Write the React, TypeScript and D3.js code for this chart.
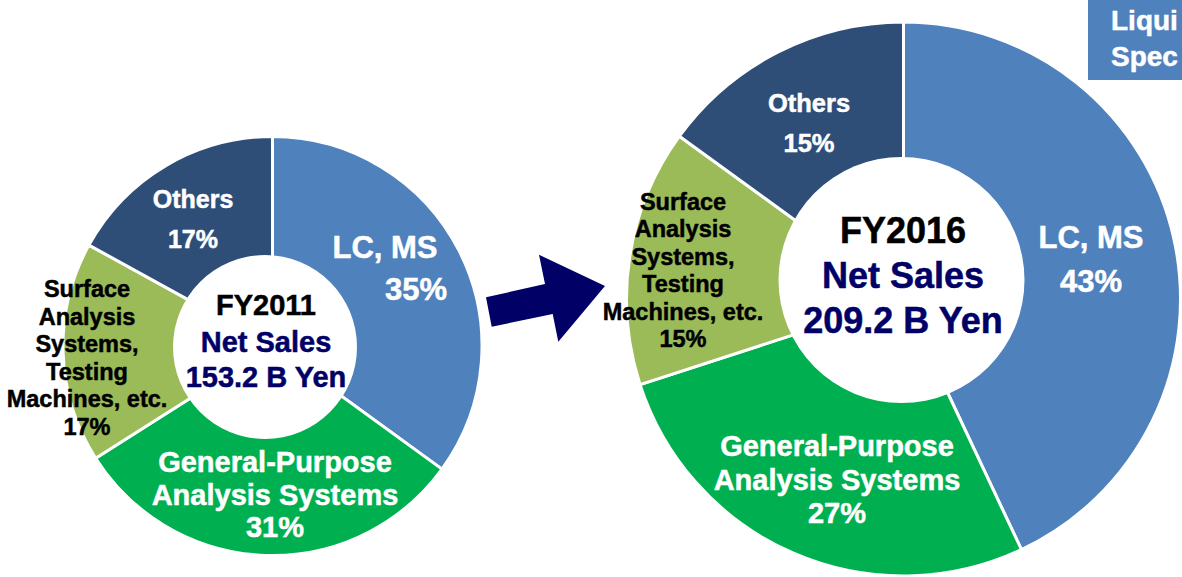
import React from 'react';
import * as d3 from 'd3';

// ---------- data ----------
const categories = [
  'LC, MS',
  'General-Purpose Analysis Systems',
  'Surface Analysis Systems, Testing Machines, etc.',
  'Others',
];
const categoryLines = [
  ['LC, MS'],
  ['General-Purpose', 'Analysis Systems'],
  ['Surface', 'Analysis', 'Systems,', 'Testing', 'Machines, etc.'],
  ['Others'],
];
const fy2011Values = [35, 31, 17, 17];
const fy2016Values = [43, 27, 15, 15];
const fy2011Center = ['FY2011', 'Net Sales', '153.2 B Yen'];
const fy2016Center = ['FY2016', 'Net Sales', '209.2 B Yen'];

// ---------- styles ----------
const colors = ['#4F81BD', '#00B050', '#9BBB59', '#2E4E78'];
const labelColors = ['#ffffff', '#ffffff', '#000000', '#ffffff'];
const FONT = '"Liberation Sans", Arial, Helvetica, sans-serif';
const NAVY = '#000066';

type LabelPos = { x: number; y: number; lh: number; size: number; pctX?: number };
type ChartLayout = {
  cx: number; cy: number; r: number;
  icx: number; icy: number; ir: number;
  labels: LabelPos[];
  center: { x: number; ys: number[]; size: number };
};

const leftLayout: ChartLayout = {
  cx: 272.5, cy: 346, r: 209.5,
  icx: 265, icy: 347, ir: 92,
  labels: [
    { x: 385, y: 258, lh: 42, size: 31, pctX: 416 },
    { x: 275, y: 472, lh: 32.5, size: 29 },
    { x: 87, y: 297, lh: 27.6, size: 23.5 },
    { x: 193, y: 208, lh: 40, size: 25 },
  ],
  center: { x: 266, ys: [315, 352, 387], size: 29 },
};

const rightLayout: ChartLayout = {
  cx: 903.5, cy: 299, r: 277,
  icx: 901.5, icy: 280, ir: 123,
  labels: [
    { x: 1091, y: 248, lh: 44, size: 31 },
    { x: 837, y: 456, lh: 33.5, size: 29 },
    { x: 683, y: 210, lh: 27.4, size: 23.5 },
    { x: 809, y: 112, lh: 40, size: 25.5 },
  ],
  center: { x: 903, ys: [243, 288, 333], size: 36 },
};

function Donut({ values, centerText, layout }: { values: number[]; centerText: string[]; layout: ChartLayout }) {
  const pie = d3.pie<number>().sort(null).startAngle(0).endAngle(2 * Math.PI);
  const arcs = pie(values);
  const arc = d3.arc<d3.PieArcDatum<number>>().innerRadius(0).outerRadius(layout.r);
  return (
    <g>
      <g transform={`translate(${layout.cx},${layout.cy})`}>
        {arcs.map((a, i) => (
          <path key={i} d={arc(a) || ''} fill={colors[i]} stroke="#ffffff" strokeWidth={3} strokeLinejoin="round" />
        ))}
      </g>
      <circle cx={layout.icx} cy={layout.icy} r={layout.ir} fill="#ffffff" />
      {categoryLines.map((lines, i) => {
        const lp = layout.labels[i];
        const all = [...lines, `${values[i]}%`];
        return (
          <text
            key={i}
            fill={labelColors[i]}
            stroke={labelColors[i]}
            strokeWidth={0.5}
            fontFamily={FONT}
            fontWeight="bold"
            fontSize={lp.size}
            textAnchor="middle"
          >
            {all.map((t, j) => (
              <tspan key={j} x={j === all.length - 1 && lp.pctX !== undefined ? lp.pctX : lp.x} y={lp.y + j * lp.lh}>
                {t}
              </tspan>
            ))}
          </text>
        );
      })}
      <text fontFamily={FONT} fontWeight="bold" fontSize={layout.center.size} textAnchor="middle" strokeWidth={0.5}>
        {centerText.map((t, j) => (
          <tspan
            key={j}
            x={layout.center.x}
            y={layout.center.ys[j]}
            fill={j === 0 ? '#000000' : NAVY}
            stroke={j === 0 ? '#000000' : NAVY}
          >
            {t}
          </tspan>
        ))}
      </text>
    </g>
  );
}

export default function App() {
  const arrowPts: [number, number][] = [
    [486, 297.3], [545, 284], [539, 254.7], [605, 286], [558.3, 341.7], [552.7, 314], [491.7, 326.7],
  ];
  const arrowPath = d3.line()(arrowPts) + 'Z';
  return (
    <svg
      width={1182}
      height={577}
      viewBox="0 0 1182 577"
      style={{ position: 'absolute', left: 0, top: 0, background: '#ffffff' }}
    >
      <rect x={0} y={0} width={1182} height={577} fill="#ffffff" />
      <Donut values={fy2011Values} centerText={fy2011Center} layout={leftLayout} />
      <Donut values={fy2016Values} centerText={fy2016Center} layout={rightLayout} />
      <path d={arrowPath} fill={NAVY} />
      <rect x={1088} y={0} width={94} height={80} fill="#4F81BD" />
      <text fill="#ffffff" stroke="#ffffff" strokeWidth={0.5} fontFamily={FONT} fontWeight="bold" fontSize={28}>
        <tspan x={1111} y={30}>Liqui</tspan>
        <tspan x={1111} y={66}>Spec</tspan>
      </text>
      <title>{categories.join(', ')}</title>
    </svg>
  );
}
